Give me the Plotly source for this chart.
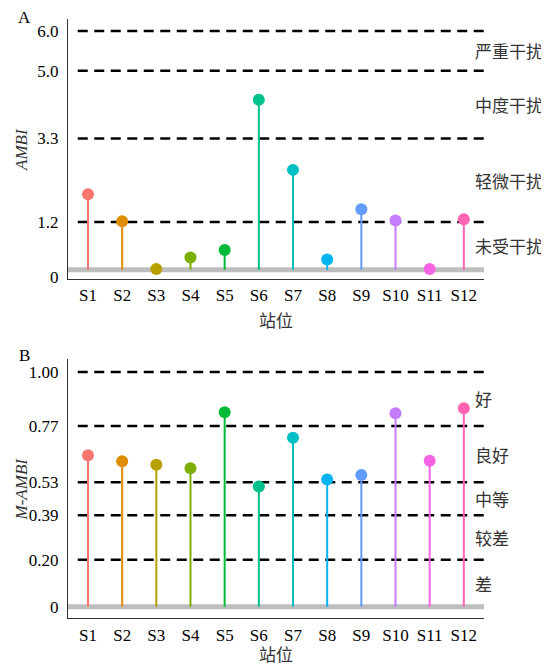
import plotly.graph_objects as go

stations = ["S1", "S2", "S3", "S4", "S5", "S6", "S7", "S8", "S9", "S10", "S11", "S12"]
ambi = [1.90, 1.22, 0.02, 0.31, 0.50, 4.27, 2.51, 0.26, 1.52, 1.24, 0.02, 1.27]
mambi = [0.645, 0.62, 0.605, 0.59, 0.828, 0.512, 0.72, 0.542, 0.561, 0.824, 0.622, 0.845]
colors = ["#F8766D", "#DE8C00", "#B79F00", "#7CAE00", "#00BA38", "#00C08B",
          "#00BFC4", "#00B4F0", "#619CFF", "#C77CFF", "#F564E3", "#FF64B0"]

ambi_thresholds = [1.2, 3.3, 5.0, 6.0]
ambi_ticktext = ["0", "1.2", "3.3", "5.0", "6.0"]
ambi_classes = ["未受干扰", "轻微干扰", "中度干扰", "严重干扰"]
ambi_class_bounds = [0, 1.2, 3.3, 5.0, 6.0]

mambi_thresholds = [0.20, 0.39, 0.53, 0.77, 1.00]
mambi_ticktext = ["0", "0.20", "0.39", "0.53", "0.77", "1.00"]
mambi_classes = ["差", "较差", "中等", "良好", "好"]
mambi_class_bounds = [0, 0.20, 0.39, 0.53, 0.77, 1.00]

SERIF = "Liberation Serif"
CJK = "Noto Sans CJK SC"

fig = go.Figure()

def add_panel(values, xa, ya):
    for s, v, c in zip(stations, values, colors):
        fig.add_trace(go.Scatter(
            x=[s, s], y=[0, v], mode="lines+markers",
            line=dict(color=c, width=2),
            marker=dict(size=[0, 12], color=c, opacity=1, line=dict(width=0)),
            xaxis=xa, yaxis=ya, showlegend=False, hoverinfo="skip"))

add_panel(ambi, "x", "y")
add_panel(mambi, "x2", "y2")

shapes = []
annotations = []

def panel_decor(thresholds, classes, bounds, xref, yref):
    shapes.append(dict(type="line", xref=xref + " domain", yref=yref,
                       x0=0, x1=1, y0=0, y1=0,
                       line=dict(color="#BEBEBE", width=5), layer="below"))
    for t in thresholds:
        shapes.append(dict(type="line", xref=xref, yref=yref,
                           x0=-0.3, x1=11.6, y0=t, y1=t,
                           line=dict(color="black", width=2.5, dash="10px,6.5px"),
                           layer="below"))
    for i, name in enumerate(classes):
        mid = (bounds[i] + bounds[i + 1]) / 2
        annotations.append(dict(text=name, xref=xref + " domain", yref=yref,
                                x=0.973, y=mid, xanchor="left", yanchor="middle",
                                showarrow=False,
                                font=dict(family=CJK, size=17, color="#333333")))

panel_decor(ambi_thresholds, ambi_classes, ambi_class_bounds, "x", "y")
panel_decor(mambi_thresholds, mambi_classes, mambi_class_bounds, "x2", "y2")

annotations += [
    dict(text="A", xref="paper", yref="paper", x=-0.1034, y=1.0025,
         xanchor="center", yanchor="middle", showarrow=False, borderpad=0,
         font=dict(family=SERIF, size=17, color="black")),
    dict(text="B", xref="paper", yref="paper", x=-0.1034, y=0.439,
         xanchor="center", yanchor="middle", showarrow=False, borderpad=0,
         font=dict(family=SERIF, size=17, color="black")),
    dict(text="<i>AMBI</i>", xref="paper", yref="y domain", x=-0.1106, y=0.5,
         xanchor="center", yanchor="middle", textangle=-90, showarrow=False,
         font=dict(family=SERIF, size=17, color="#333333")),
    dict(text="<i>M-AMBI</i>", xref="paper", yref="y2 domain", x=-0.1106, y=0.5,
         xanchor="center", yanchor="middle", textangle=-90, showarrow=False,
         font=dict(family=SERIF, size=17, color="#333333")),
    dict(text="站位", xref="paper", yref="paper", x=0.5, y=0.4975,
         xanchor="center", yanchor="middle", showarrow=False, borderpad=0,
         font=dict(family=CJK, size=17, color="#333333")),
    dict(text="站位", xref="paper", yref="paper", x=0.5, y=-0.0595,
         xanchor="center", yanchor="middle", showarrow=False, borderpad=0,
         font=dict(family=CJK, size=17, color="#333333")),
]

xcommon = dict(type="category", categoryorder="array", categoryarray=stations,
               range=[-0.585, 11.59], showgrid=False, zeroline=False,
               showline=True, linecolor="#333333", linewidth=1.2, ticks="",
               ticklabelstandoff=1, automargin=False,
               tickfont=dict(family=SERIF, size=17, color="black"))
ycommon = dict(showgrid=False, zeroline=False, showline=True, linecolor="#333333",
               linewidth=1.2, ticks="", ticklabelstandoff=5, automargin=False,
               tickfont=dict(family=SERIF, size=17, color="black"))

# page body has an 8px margin: size the figure so it ends at the window edge
fig.update_layout(
    width=541, height=659,
    margin=dict(l=60, r=65, t=11, b=49),
    paper_bgcolor="white", plot_bgcolor="white",
    xaxis=dict(**xcommon, anchor="y", domain=[0, 1]),
    xaxis2=dict(**xcommon, anchor="y2", domain=[0, 1]),
    yaxis=dict(**ycommon, anchor="x", domain=[0.566, 1], range=[-0.23, 6.30],
               tickvals=[-0.18] + ambi_thresholds, ticktext=ambi_ticktext),
    yaxis2=dict(**ycommon, anchor="x2", domain=[0, 0.4324], range=[-0.048, 1.055],
                tickvals=[0] + mambi_thresholds, ticktext=mambi_ticktext),
    shapes=shapes, annotations=annotations,
)

fig.write_html("out.html")
